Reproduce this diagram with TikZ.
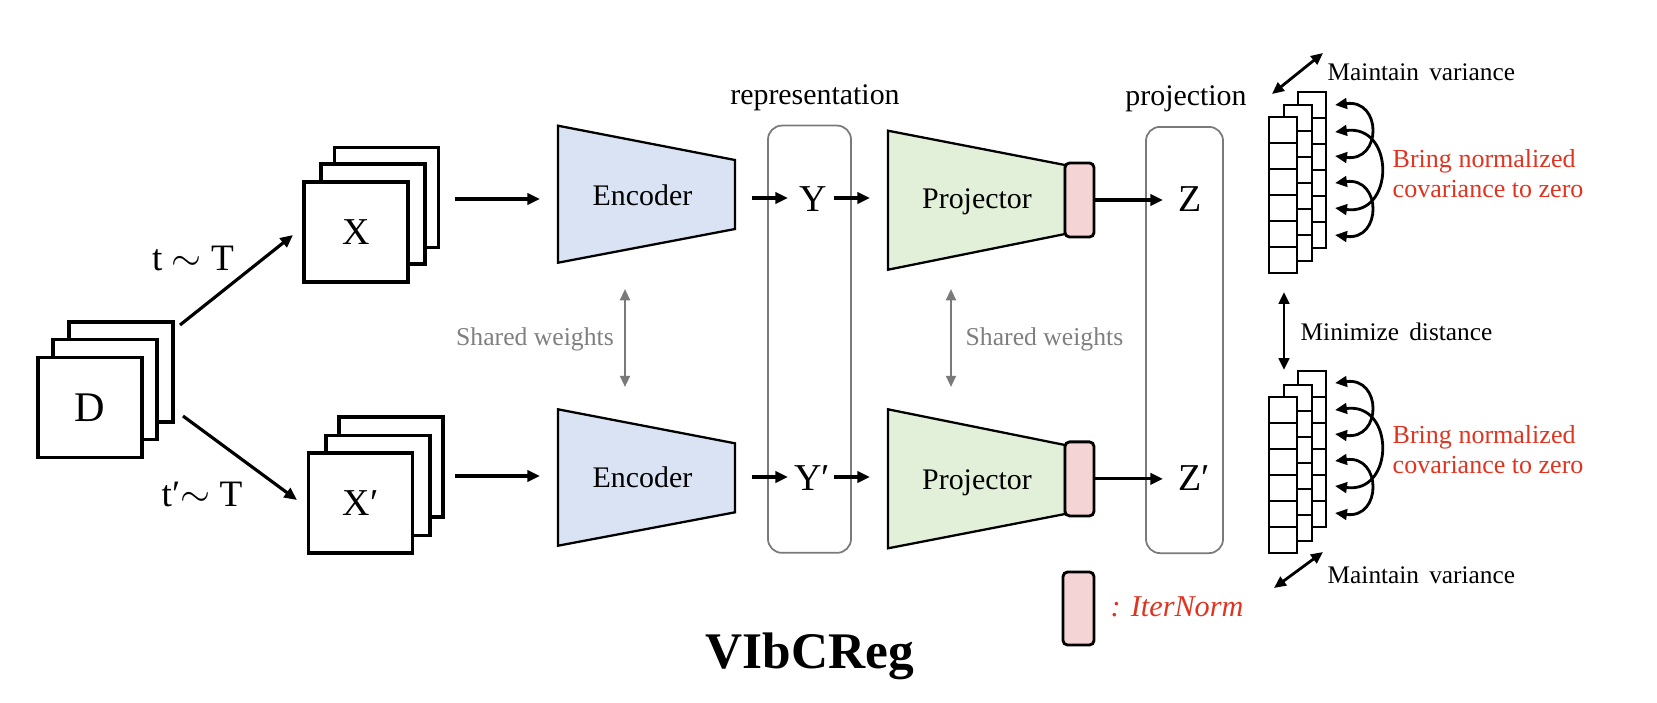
\documentclass[tikz,border=0pt]{standalone}
\usepackage{fontspec}
\setmainfont{Liberation Serif}
\usetikzlibrary{arrows.meta}
\definecolor{encfill}{HTML}{DAE3F3}
\definecolor{projfill}{HTML}{E2F0D9}
\definecolor{normfill}{HTML}{F4D4D4}
\definecolor{redtxt}{RGB}{222,52,32}
\definecolor{grayln}{HTML}{7A7A7A}
\definecolor{graytxt}{HTML}{7F7F7F}
\newcommand\cellcol[2]{%
  \draw[cellbox] (#1,#2) rectangle ++(28,156);
  \foreach \k in {1,...,5} {\draw[cellbox] (#1,#2+26*\k) -- ++(28,0);}
}
\begin{document}
\begin{tikzpicture}[x=0.01cm, y=-0.01cm,
  page/.style={draw=black, line width=0.9pt, fill=white, minimum width=1.04cm, minimum height=1.0cm, inner sep=0pt},
  cellbox/.style={draw=black, line width=0.8pt, fill=white},
  encshape/.style={draw=black, line width=0.65pt, fill=encfill},
  projshape/.style={draw=black, line width=0.65pt, fill=projfill},
  normbox/.style={draw=black, line width=0.8pt, fill=normfill, rounded corners=1.3pt, minimum width=0.29cm, minimum height=0.74cm, inner sep=0pt},
  latbox/.style={draw=grayln, line width=0.5pt, rounded corners=0.14cm, inner sep=0pt},
  arr/.style={-{Triangle[length=3.6pt,width=3.2pt]}, line width=0.9pt},
  dblarr/.style={{Triangle[length=3.4pt,width=3pt]}-{Triangle[length=3.4pt,width=3pt]}, line width=0.8pt},
  grayarr/.style={{Triangle[length=3.2pt,width=2.8pt]}-{Triangle[length=3.2pt,width=2.8pt]}, line width=0.65pt, draw=grayln},
  bigletter/.style={font=\fontsize{10.8pt}{13pt}\selectfont, inner sep=0pt},
  blocklabel/.style={font=\fontsize{8.5pt}{10pt}\selectfont, inner sep=0pt, anchor=base},
  note/.style={font=\fontsize{7.2pt}{9pt}\selectfont, inner sep=0pt, anchor=base west},
  sharedlabel/.style={font=\fontsize{7.3pt}{9pt}\selectfont, text=graytxt, inner sep=0pt, anchor=base},
  redlabel/.style={font=\fontsize{7.4pt}{8.5pt}\selectfont, text=redtxt, inner sep=0pt, anchor=north west, align=left},
  tlabel/.style={font=\fontsize{10.6pt}{12pt}\selectfont, inner sep=0pt, anchor=base}
]
\useasboundingbox (0,0) rectangle (1657,702);

% ---- D stack
\node[page] (Dback) at (121,372) {};
\node[page] (Dmid) at (105,389.5) {};
\node[page, font=\fontsize{12pt}{14pt}\selectfont] (D) at (90,407.5) {D};

% ---- X stacks
\node[page] (Xback) at (386.5,197.5) {};
\node[page] (Xmid) at (373,214) {};
\node[page, font=\fontsize{10.8pt}{13pt}\selectfont] (X) at (356,232) {X};
\node[page] (Xpback) at (391,467) {};
\node[page] (Xpmid) at (378,485.5) {};
\node[page, font=\fontsize{10.8pt}{13pt}\selectfont] (Xp) at (360.5,503) {X′};

% ---- augmentation arrows
\coordinate (dx1s) at (180,325); \coordinate (dx1e) at (293,235);
\coordinate (dx2s) at (183,416); \coordinate (dx2e) at (297,500);
\draw[arr] (dx1s) -- (dx1e);
\draw[arr] (dx2s) -- (dx2e);
\node[tlabel] (t1) at (193,270.7) {t $\sim$ T};
\node[tlabel] (t2) at (202,506.7) {t′$\sim$ T};

% ---- latent boxes
\node[latbox, minimum width=0.83cm, minimum height=4.27cm] (repbox) at (809.5,339.2) {};
\node[latbox, minimum width=0.77cm, minimum height=4.26cm] (projbox) at (1184.5,340) {};
\node[blocklabel] (reptext) at (815,104) {representation};
\node[blocklabel] (projtext) at (1186,105) {projection};

% ---- encoders
\draw[encshape] (558,125.7) -- (735,160) -- (735,229) -- (558,262.7) -- cycle;
\draw[encshape] (558,409.3) -- (735,443.3) -- (735,512.3) -- (558,545.7) -- cycle;
\node[blocklabel] (enc1) at (642.5,205) {Encoder};
\node[blocklabel] (enc2) at (642.5,487) {Encoder};

% ---- projectors
\draw[projshape] (888,130.7) -- (1065,165) -- (1065,234) -- (888,269.7) -- cycle;
\draw[projshape] (888,409.3) -- (1065,445) -- (1065,514) -- (888,548.3) -- cycle;
\node[blocklabel] (proj1) at (977,208) {Projector};
\node[blocklabel] (proj2) at (977,489) {Projector};
\node[normbox] (in1) at (1079.5,200) {};
\node[normbox] (in2) at (1079.5,478.9) {};

% ---- latent letters
\node[bigletter] (Y) at (813,199.5) {Y};
\node[bigletter] (Yp) at (812,478) {Y′};
\node[bigletter] (Z) at (1190,199) {Z};
\node[bigletter] (Zp) at (1194,478) {Z′};

% ---- main flow arrows
\coordinate (xo1) at (455,199); \coordinate (ei1) at (540,199);
\coordinate (xo2) at (455,476); \coordinate (ei2) at (540,476);
\draw[arr] (xo1) -- (ei1);
\draw[arr] (xo2) -- (ei2);
\coordinate (eo1) at (751.5,198); \coordinate (yi1) at (788,198);
\coordinate (eo2) at (751.5,477); \coordinate (yi2) at (788,477);
\draw[arr] (eo1) -- (yi1);
\draw[arr] (eo2) -- (yi2);
\coordinate (yo1) at (834,198); \coordinate (pi1) at (870,198);
\coordinate (yo2) at (834,477); \coordinate (pi2) at (870,477);
\draw[arr] (yo1) -- (pi1);
\draw[arr] (yo2) -- (pi2);
\coordinate (zend) at (1163,0);
\draw[arr] (in1.east) -- (in1.east -| zend);
\draw[arr] (in2.east) -- (in2.east -| zend);

% ---- shared weights
\coordinate (sw1a) at (625,289); \coordinate (sw1b) at (625,387);
\coordinate (sw2a) at (951,289); \coordinate (sw2b) at (951,387);
\draw[grayarr] (sw1a) -- (sw1b);
\draw[grayarr] (sw2a) -- (sw2b);
\node[sharedlabel] (sw1) at (535,345) {Shared weights};
\node[sharedlabel, anchor=base west] (sw2) at (965,345) {Shared weights};

% ---- embedding stacks (top)
\cellcol{1298}{92}
\cellcol{1284}{105}
\cellcol{1269}{117}
% ---- embedding stacks (bottom)
\cellcol{1298}{371}
\cellcol{1284}{385}
\cellcol{1269}{397}

% covariance arcs
\foreach \o in {0,278} {
  \draw[dblarr] (1335,105+\o) .. controls (1382,99+\o) and (1382,162+\o) .. (1335,156+\o);
  \draw[dblarr] (1335,132+\o) .. controls (1395,124+\o) and (1395,216+\o) .. (1335,208+\o);
  \draw[dblarr] (1335,183+\o) .. controls (1382,177+\o) and (1382,241+\o) .. (1335,235+\o);
}
\node[redlabel] (cov1) at (1392,149) {Bring normalized\\covariance to zero};
\node[redlabel] (cov2) at (1392,425) {Bring normalized\\covariance to zero};

% variance / distance
\coordinate (mv1a) at (1272,94); \coordinate (mv1b) at (1323,53);
\coordinate (mv2a) at (1274,588); \coordinate (mv2b) at (1323,552);
\draw[dblarr] (mv1a) -- (mv1b);
\draw[dblarr] (mv2a) -- (mv2b);
\node[note] (mv1) at (1327,80.7) {Maintain\hspace{0.4em}variance};
\node[note] (mv2) at (1327,583) {Maintain\hspace{0.4em}variance};
\coordinate (mda) at (1284,292); \coordinate (mdb) at (1284,370);
\draw[dblarr] (mda) -- (mdb);
\node[note] (md) at (1300,340) {Minimize\hspace{0.4em}distance};

% legend
\node[normbox, minimum width=0.31cm, minimum height=0.73cm] (legend) at (1078.5,608.5) {};
\node[font=\fontsize{8.6pt}{10pt}\selectfont\itshape, text=redtxt, inner sep=0pt, anchor=base west] (legtext) at (1110,616.7) {: IterNorm};

% title
\node[font=\fontsize{14.6pt}{17pt}\selectfont\bfseries, inner sep=0pt, anchor=base] (title) at (810,668) {VIbCReg};
\end{tikzpicture}
\end{document}
